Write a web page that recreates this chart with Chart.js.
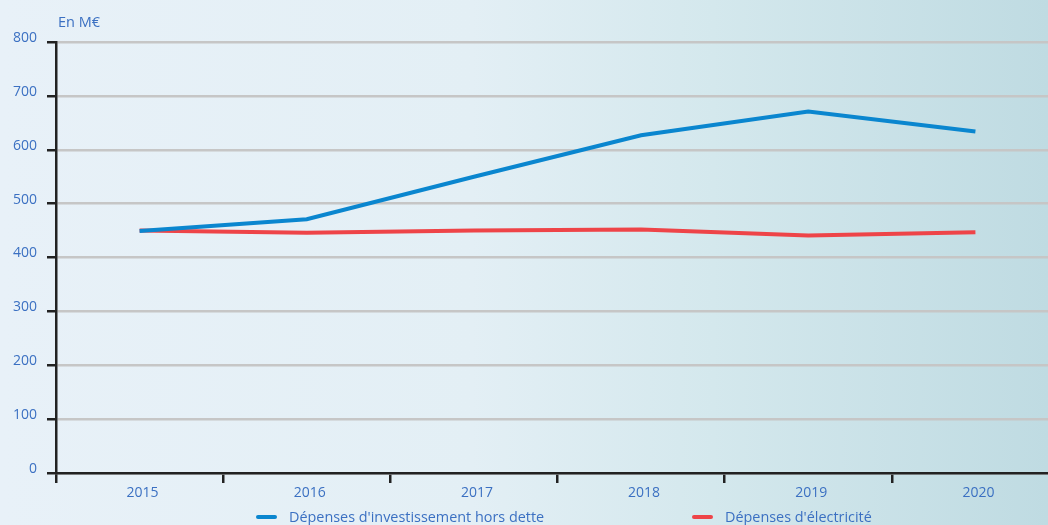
<!DOCTYPE html>
<html lang="fr">
<head>
<meta charset="utf-8">
<script src="https://cdn.jsdelivr.net/npm/chart.js@4/dist/chart.umd.min.js"></script>
<style>
  html, body {
    margin: 0;
    padding: 0;
    width: 1048px;
    height: 525px;
    overflow: hidden;
    font-family: "Open Sans", sans-serif;
  }
  body {
    background: linear-gradient(90deg, #e8f1f8 0%, #e3eff5 45%, #d4e8ed 68%, #bfdbe2 100%);
    position: relative;
  }
  #wrap {
    position: absolute;
    left: 0;
    top: 0;
    width: 1061px;
    height: 525px;
  }
  .legend-item {
    position: absolute;
    top: 508px;
    height: 18px;
    line-height: 18px;
    font-size: 14.4px;
    color: #3b70c2;
    white-space: nowrap;
  }
  .legend-item span.swatch {
    display: inline-block;
    width: 21px;
    height: 4px;
    border-radius: 2px;
    vertical-align: middle;
    margin-right: 12px;
    position: relative;
    top: -1px;
  }
</style>
</head>
<body>
<div id="wrap"><canvas id="myChartDepenses" width="1061" height="525"></canvas></div>
<div class="legend-item" id="leg-invest" style="left:256px"><span class="swatch"></span><span class="txt"></span></div>
<div class="legend-item" id="leg-elec" style="left:692px"><span class="swatch"></span><span class="txt"></span></div>

<script>
var annees = ['2015', '2016', '2017', '2018', '2019', '2020'];
var investissement = [449, 471, 550, 627, 671, 634];
var electricite = [450, 446, 450, 452, 441, 447];
var graduations = [0, 100, 200, 300, 400, 500, 600, 700, 800];

var labelInvest = "Dépenses d'investissement hors dette";
var labelElec = "Dépenses d'électricité";
var unite = 'En M€';

var bleu = '#0a86cf';
var rouge = '#ee4448';
var texte = '#3b70c2';

// small plugin for the unit text above the axis
var uniteLabel = {
    id: 'uniteLabel',
    afterDraw: function (chart) {
        var c = chart.ctx;
        c.save();
        c.font = '14.5px "Open Sans"';
        c.fillStyle = texte;
        c.textBaseline = 'middle';
        c.textAlign = 'left';
        c.fillText(unite, chart.chartArea.left + 2, 23);
        c.restore();
    }
};

window.onload = function () {

    var items = [['leg-invest', labelInvest, bleu], ['leg-elec', labelElec, rouge]];
    for (var i = 0; i < items.length; i++) {
        var el = document.getElementById(items[i][0]);
        el.querySelector('.swatch').style.background = items[i][2];
        el.querySelector('.txt').textContent = items[i][1];
    }

    var ctx = document.getElementById('myChartDepenses').getContext('2d');
    var myChart = new Chart(ctx, {
        type: 'line',
        data: {
            labels: annees,
            datasets: [{
                label: labelInvest,
                data: investissement,
                borderColor: bleu,
                borderWidth: 4,
                pointRadius: 0,
                tension: 0,
                fill: false
            }, {
                label: labelElec,
                data: electricite,
                borderColor: rouge,
                borderWidth: 4,
                pointRadius: 0,
                tension: 0,
                fill: false
            }]
        },
        options: {
            responsive: false,
            animation: false,
            layout: {
                padding: { top: 42, right: 2, bottom: 22, left: 0 }
            },
            plugins: {
                legend: { display: false },
                tooltip: { enabled: false }
            },
            scales: {
                x: {
                    offset: true,
                    grid: {
                        offset: true,
                        drawOnChartArea: false,
                        drawTicks: true,
                        tickLength: 10,
                        tickColor: '#222222',
                        lineWidth: 2.5
                    },
                    border: { color: '#222222', width: 2.5 },
                    ticks: {
                        color: texte,
                        font: { family: 'Open Sans', size: 14 },
                        padding: 2,
                        labelOffset: 3,
                        maxRotation: 0
                    },
                    afterFit: function (scale) { scale.height = 30; }
                },
                y: {
                    min: 0,
                    max: 800,
                    afterBuildTicks: function (scale) {
                        scale.ticks = graduations.map(function (v) { return { value: v }; });
                    },
                    grid: {
                        color: '#c6c6c6',
                        lineWidth: 2.5,
                        tickColor: '#222222',
                        tickLength: 9
                    },
                    border: { color: '#222222', width: 2.5 },
                    ticks: {
                        color: texte,
                        font: { family: 'Open Sans', size: 14 },
                        padding: 10,
                        labelOffset: -4
                    },
                    afterFit: function (scale) { scale.width = 56; }
                }
            }
        },
        plugins: [uniteLabel]
    });
}
</script>
</body>
</html>
